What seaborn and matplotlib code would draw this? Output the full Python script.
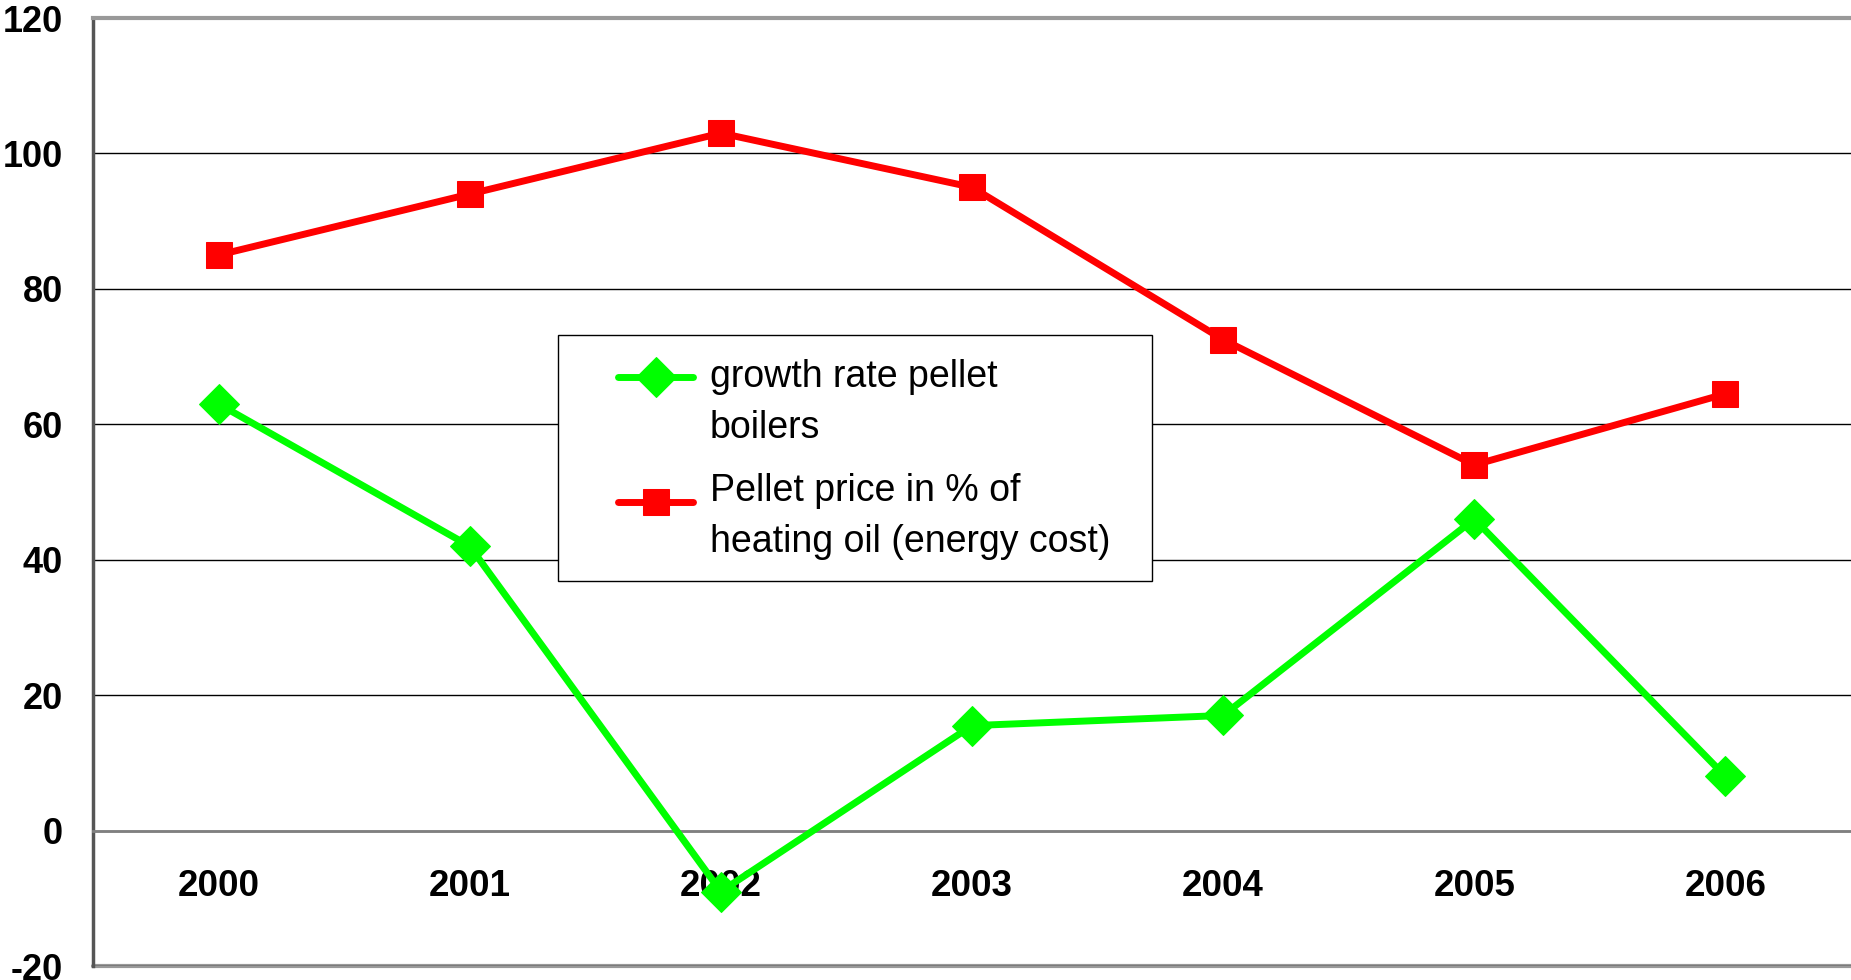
import matplotlib
matplotlib.use("Agg")
import matplotlib.pyplot as plt
import seaborn as sns
import pandas as pd
from matplotlib.ticker import FixedLocator
from matplotlib.patches import Rectangle
from matplotlib.legend_handler import HandlerLine2D

years = ["2000", "2001", "2002", "2003", "2004", "2005", "2006"]
growth_rate = [63, 42, -9, 15.5, 17, 46, 8]
price_pct = [85, 94, 103, 95, 72.5, 54, 64.5]
label_growth = "growth rate pellet\nboilers"
label_price = "Pellet price in % of\nheating oil (energy cost)"
y_ticks = [-20, 0, 20, 40, 60, 80, 100, 120]

sns.set_theme(style="white")
plt.rcParams['font.family'] = ['Liberation Sans', 'DejaVu Sans']
plt.rcParams['text.color'] = 'black'
plt.rcParams['xtick.color'] = 'black'
plt.rcParams['ytick.color'] = 'black'
plt.rcParams['xtick.labelcolor'] = 'black'
plt.rcParams['ytick.labelcolor'] = 'black'

df = pd.DataFrame({"pos": range(len(years)), "growth": growth_rate, "price": price_pct})

fig = plt.figure(figsize=(18.51, 9.8), dpi=100)
ax = fig.add_axes([93/1851, 1 - 966/980, 1 - 93/1851, (966 - 18)/980])
ax.set_axisbelow(True)

sns.lineplot(data=df, x="pos", y="growth", ax=ax, color="#00FF00", lw=5,
             marker="D", markersize=20, markeredgecolor="#00FF00",
             label=label_growth, zorder=3)
sns.lineplot(data=df, x="pos", y="price", ax=ax, color="#FF0000", lw=5,
             marker="s", markersize=19, markeredgecolor="#FF0000",
             label=label_price, zorder=3)

ax.set_xlim(-0.5, len(years) - 0.5)
ax.set_ylim(-20, 120)
ax.set_yticks(y_ticks)
ax.set_xticks(range(len(years)))
ax.xaxis.set_minor_locator(FixedLocator([i + 0.5 for i in range(len(years) - 1)]))
ax.tick_params(axis="x", which="major", length=0, pad=28, labelsize=26.5)
ax.tick_params(axis="x", which="minor", length=9, width=1, color="black", direction="out")
ax.tick_params(axis="y", which="major", length=8.6, width=1, color="black",
               direction="out", pad=13, labelsize=26)
ax.set_xticklabels(years, fontsize=26.5, fontweight="bold")
ax.set_yticklabels([str(v) for v in y_ticks], fontsize=26, fontweight="bold")
ax.set_xlabel("")
ax.set_ylabel("")

ax.yaxis.grid(True, color="black", lw=1)
ax.xaxis.grid(False)

ax.spines["right"].set_visible(False)
ax.spines["top"].set_color("#999999")
ax.spines["top"].set_linewidth(3)
ax.spines["left"].set_color("#555555")
ax.spines["left"].set_linewidth(2.5)
ax.spines["bottom"].set_position(("data", 0))
ax.spines["bottom"].set_color("#808080")
ax.spines["bottom"].set_linewidth(2)
ax.axhline(-20, color="#999999", lw=3, clip_on=False, zorder=0.4)

# legend box
box = Rectangle((558/1851, 1 - 581/980), (1152 - 558)/1851, (581 - 335)/980,
                transform=fig.transFigure, facecolor="white", edgecolor="black",
                lw=1, zorder=5, clip_on=False)
ax.add_patch(box)


class ShiftedHandler(HandlerLine2D):
    def __init__(self, dy, **kw):
        super().__init__(**kw)
        self.dy = dy

    def create_artists(self, legend, orig_handle, xdescent, ydescent, width,
                       height, fontsize, trans):
        artists = super().create_artists(legend, orig_handle, xdescent, ydescent,
                                         width, height, fontsize, trans)
        for a in artists:
            yd = a.get_ydata()
            a.set_ydata([y + self.dy for y in yd])
        return artists


handles, labels = ax.get_legend_handles_labels()
shifts = {label_growth: 19, label_price: 11}
hmap = {h: ShiftedHandler(shifts.get(l, 0)) for h, l in zip(handles, labels)}

leg = ax.legend(handles, labels, loc="upper left",
                bbox_to_anchor=(618/1851, 1 - 359/980),
                bbox_transform=fig.transFigure, fontsize=27, frameon=False,
                handlelength=2.0, handletextpad=0.45, borderpad=0,
                labelspacing=0.7, borderaxespad=0, handler_map=hmap)
leg.set_zorder(6)
for t in leg.get_texts():
    t.set_linespacing(1.55)
    t.set_color("black")

fig.canvas.draw()
for t in ax.get_xticklabels():
    t.set_fontweight("bold")
    t.set_fontsize(26.5)
    t.set_color("black")
for t in ax.get_yticklabels():
    t.set_fontweight("bold")
    t.set_fontsize(26)
    t.set_color("black")

fig.savefig("out.png", dpi=100)
